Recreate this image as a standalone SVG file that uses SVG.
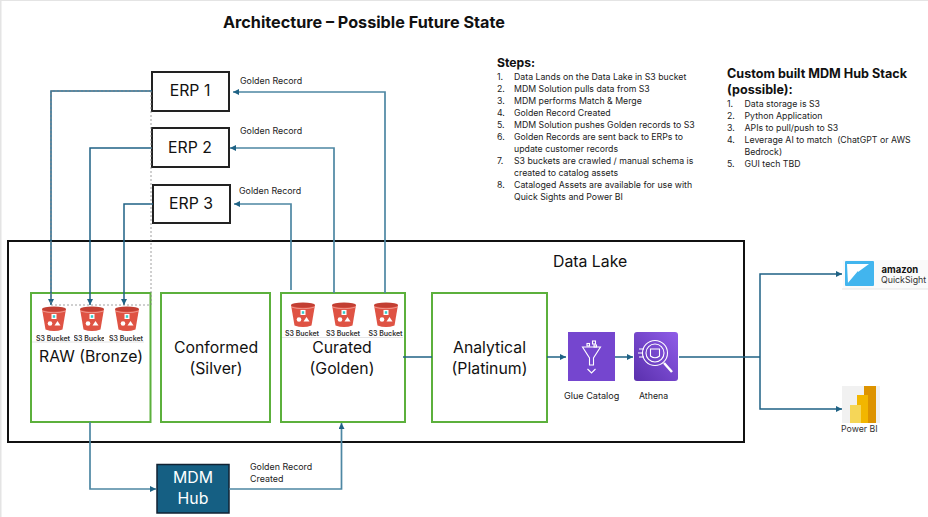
<svg xmlns="http://www.w3.org/2000/svg" width="928" height="517" viewBox="0 0 928 517">
<style>
text{font-family:"Inter","Noto Sans","Liberation Sans",sans-serif;fill:#111;white-space:pre}
.sm{font-size:8.9px;fill:#222}
.st{font-size:8.75px;fill:#222}
.lbl{font-size:15.8px;text-anchor:middle}
.zone{fill:#fff;stroke:#5cb03c;stroke-width:2}
.erp{fill:#fff;stroke:#222;stroke-width:2}
.c{fill:none;stroke:#1f6285;stroke-width:1.5}
.l{fill:none;stroke:#4d87a3;stroke-width:1.7}
.b{font-size:7px;font-weight:600;text-anchor:middle;fill:#333}
.h{font-weight:700}
.w{fill:none;stroke:#fff;stroke-width:1.1}
.hair{stroke:#dedede;stroke-width:.8}
</style>
<defs>
<marker id="a" markerUnits="userSpaceOnUse" markerWidth="7" markerHeight="7" refX="6" refY="3" orient="auto"><path d="M0 0L6 3L0 6z" fill="#1f6285"/></marker>
<linearGradient id="ath" x1="0" y1="1" x2="1" y2="0"><stop offset="0" stop-color="#5a30ad"/><stop offset="1" stop-color="#8f5ce8"/></linearGradient>
<clipPath id="cb"><rect x="74" y="333" width="30" height="10"/></clipPath>
<g id="bk">
<path d="M-12 -10H12L8.5 10.500Q0 13.500 -8.500 10.500Z" fill="#df5344"/>
<ellipse cx="0" cy="-10" rx="12" ry="2.600" fill="#c23f33"/>
<path d="M-12 -8Q0 -4.500 12 -8" fill="none" stroke="#f3b0a8" stroke-width=".7"/>
<rect x="-2.500" y="-5" width="5" height="5" fill="#fff"/><rect x="-1.200" y="-3.800" width="2.400" height="2.600" fill="#3cc"/>
<circle cx="-4" cy="4.500" r="2.300" fill="#fff"/><path d="M3.500 2L6.500 6.500H.5Z" fill="#fff"/>
</g>
</defs>
<rect width="928" height="517" fill="#fff"/>
<rect x="0" y="0" width="1.5" height="517" fill="#e4e4e4"/>
<rect x="0" y="0" width="928" height="1" fill="#e4e4e4"/>
<text x="223" y="28" font-size="16.200" class="h">Architecture – Possible Future State</text>

<g id="data-lake"><rect x="8" y="241" width="736" height="201" fill="#fff" stroke="#111" stroke-width="2"/><text x="553" y="267" font-size="15.800">Data Lake</text></g>

<g id="raw"><rect class="zone" x="31" y="293" width="119.500" height="129"/><text class="lbl" x="91" y="362">RAW (Bronze)</text>
<use href="#bk" x="54" y="319"/><use href="#bk" x="92" y="319"/><use href="#bk" x="127" y="319"/>
<path class="hair" d="M32 342H144"/>
<text class="b" x="53" y="341">S3 Bucket</text><text class="b" x="90.500" y="341" clip-path="url(#cb)">S3 Bucket</text><text class="b" x="126" y="341">S3 Bucket</text></g>
<g id="conformed"><rect class="zone" x="161" y="293" width="109" height="129"/><text class="lbl" x="216" y="352.500">Conformed</text><text class="lbl" x="216" y="373.500">(Silver)</text></g>
<g id="curated"><rect class="zone" x="281" y="293" width="124" height="129"/><text class="lbl" x="342" y="352.500">Curated</text><text class="lbl" x="342" y="373.500">(Golden)</text>
<use href="#bk" x="303" y="315"/><use href="#bk" x="344" y="315"/><use href="#bk" x="386" y="315"/>
<path class="hair" d="M282 337.500H403"/>
<text class="b" x="302" y="336">S3 Bucket</text><text class="b" x="343" y="336">S3 Bucket</text><text class="b" x="385.500" y="336">S3 Bucket</text></g>
<g id="analytical"><rect class="zone" x="432" y="293" width="115" height="129"/><text class="lbl" x="489.500" y="352.500">Analytical</text><text class="lbl" x="489.500" y="373.500">(Platinum)</text></g>

<g id="glue"><rect x="568" y="332" width="47" height="49" fill="#7546cf"/>
<path d="M582.500 347H600.500L593.500 358V365H589.500V358Z" class="w"/>
<rect x="587" y="346" width="0" height="0"/>
<rect x="592.500" y="341" width="3" height="3" class="w"/><rect x="587" y="343.500" width="2.500" height="2.500" class="w"/><rect x="594" y="345" width="2.500" height="2" class="w"/>
<path d="M587.500 369L591.500 373L595.500 369" class="w"/>
<text x="564" y="398.500" font-size="9.100" fill="#222" style="fill:#222">Glue Catalog</text></g>
<g id="athena"><rect x="634" y="332" width="44" height="49" rx="3" fill="url(#ath)"/>
<circle cx="655" cy="353" r="12.500" class="w"/><circle cx="655" cy="353" r="9" class="w"/>
<path d="M650.500 349H659.500V356Q655 359.500 650.500 356Z" class="w"/><path d="M664 363L672 372" stroke="#fff" stroke-width="2.500"/>
<path d="M639 349H644M638 353H642M639 357H644" class="w"/>
<text x="639" y="398.500" class="st">Athena</text></g>

<g id="erp1"><rect class="erp" x="152" y="72" width="77" height="39"/><text class="lbl" x="190" y="96">ERP 1</text></g>
<g id="erp2"><rect class="erp" x="152" y="128" width="77" height="39"/><text class="lbl" x="190" y="153">ERP 2</text></g>
<g id="erp3"><rect class="erp" x="153" y="185" width="77" height="38"/><text class="lbl" x="191" y="209">ERP 3</text></g>
<g id="mdm"><rect x="157" y="464.500" width="72" height="48.500" fill="#155f83" stroke="#123" stroke-width="1.500"/><text class="lbl" x="193" y="483" style="fill:#fff">MDM</text><text class="lbl" x="193" y="504" style="fill:#fff">Hub</text></g>

<g id="quicksight"><rect x="843" y="260" width="85" height="28.500" fill="#fafafa"/><path class="hair" d="M842 289H928"/>
<rect x="845" y="261" width="29" height="25" rx="1" fill="#42b5ee"/><path d="M846.500 284V279L858 265V275L871 263V266L854 284Z" fill="#fff" opacity=".0"/><path d="M847 264H869L858 272V277L848 284Z" fill="#fff"/><path d="M847 284L858 271V278L870 264V284Z" fill="#42b5ee"/>
<text x="881.500" y="273" font-size="9.500" class="h">amazon</text><text x="881" y="283" font-size="8.800" style="fill:#333">QuickSight</text></g>
<g id="powerbi"><rect x="842" y="386" width="38" height="37" fill="#f1f1f1"/><rect x="864" y="386" width="12" height="37" fill="#dd9300"/><rect x="857" y="395" width="11" height="28" fill="#f2b600"/><rect x="850" y="405" width="11" height="18" fill="#f5d658"/>
<text x="841" y="432" class="st" style="fill:#333">Power BI</text></g>

<g id="connectors">
<path d="M152 91H51V305" class="c" marker-end="url(#a)"/>
<path d="M152 148H90V305" class="c" marker-end="url(#a)"/>
<path d="M153 204H124V305" class="c" marker-end="url(#a)"/>
<path d="M385 293V92H233" class="l" marker-end="url(#a)"/>
<path d="M334 293V148H230" class="l" marker-end="url(#a)"/>
<path d="M291 290V204H234" class="l" marker-end="url(#a)"/>
<path d="M51 91H151V305H51Z" fill="none" stroke="#888" stroke-width=".8" stroke-dasharray="2 2"/>
<path d="M90 422V489H156" class="l" marker-end="url(#a)"/>
<path d="M229 489H341.500V423" class="l" marker-end="url(#a)"/>
<path d="M403 357H432" class="c"/>
<path d="M547 357H566" class="c" marker-end="url(#a)"/>
<path d="M615 357H633" class="c" marker-end="url(#a)"/>
<path d="M679 357H760" class="c"/>
<path d="M760 357V274H842" class="c" marker-end="url(#a)"/>
<path d="M760 357V409H842" class="c" marker-end="url(#a)"/>
</g>

<text class="sm" x="240" y="84">Golden Record</text>
<text class="sm" x="240" y="134">Golden Record</text>
<text class="sm" x="239" y="194">Golden Record</text>
<text class="sm" x="250" y="470">Golden Record</text>
<text class="sm" x="250" y="482">Created</text>

<g id="steps">
<text x="497" y="67" font-size="12.200" class="h">Steps:</text>
<text class="st" x="497" y="79.500">1.</text><text class="st" x="514" y="79.500">Data Lands on the Data Lake in S3 bucket</text>
<text class="st" x="497" y="91.500">2.</text><text class="st" x="514" y="91.500">MDM Solution pulls data from S3</text>
<text class="st" x="497" y="103.500">3.</text><text class="st" x="514" y="103.500">MDM performs Match &amp; Merge</text>
<text class="st" x="497" y="115.500">4.</text><text class="st" x="514" y="115.500">Golden Record Created</text>
<text class="st" x="497" y="127.500">5.</text><text class="st" x="514" y="127.500">MDM Solution pushes Golden records to S3</text>
<text class="st" x="497" y="139.500">6.</text><text class="st" x="514" y="139.500">Golden Records are sent back to ERPs to</text>
<text class="st" x="514" y="151.500">update customer records</text>
<text class="st" x="497" y="163.500">7.</text><text class="st" x="514" y="163.500">S3 buckets are crawled / manual schema is</text>
<text class="st" x="514" y="175.500">created to catalog assets</text>
<text class="st" x="497" y="187.500">8.</text><text class="st" x="514" y="187.500">Cataloged Assets are available for use with</text>
<text class="st" x="514" y="199.500">Quick Sights and Power BI</text>
</g>
<g id="stack">
<text x="727" y="78" font-size="12.600" class="h">Custom built MDM Hub Stack</text>
<text x="727" y="94" font-size="12.600" class="h">(possible):</text>
<text class="st" x="727" y="107">1.</text><text class="st" x="744.500" y="107">Data storage is S3</text>
<text class="st" x="727" y="119">2.</text><text class="st" x="744.500" y="119">Python Application</text>
<text class="st" x="727" y="131">3.</text><text class="st" x="744.500" y="131">APIs to pull/push to S3</text>
<text class="st" x="727" y="143">4.</text><text class="st" x="744.500" y="143">Leverage AI to match  (ChatGPT or AWS</text>
<text class="st" x="744.500" y="155">Bedrock)</text>
<text class="st" x="727" y="167">5.</text><text class="st" x="744.500" y="167">GUI tech TBD</text>
</g>
</svg>
